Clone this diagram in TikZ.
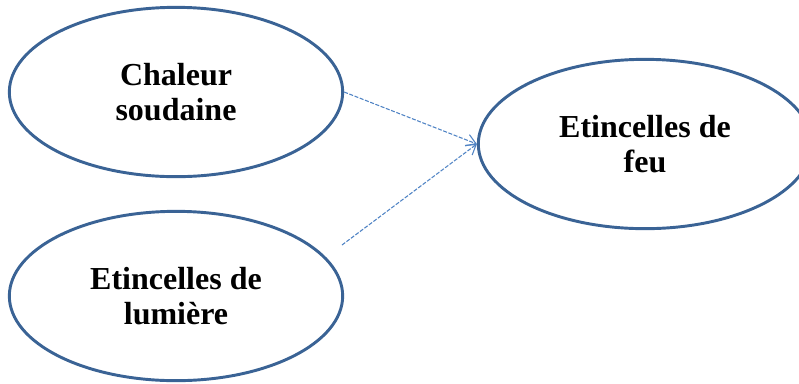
\documentclass[tikz,border=0pt]{standalone}
\usepackage{fontspec}
\setmainfont{Liberation Serif}
\usetikzlibrary{arrows.meta, positioning, shapes.geometric}
\definecolor{rimblue}{HTML}{3A6395}
\definecolor{linkblue}{HTML}{4F83C4}
\begin{document}
\begin{tikzpicture}[
    x=0.75pt, y=-0.75pt,
    cause/.style={draw=rimblue, line width=2.2pt, ellipse, inner sep=0pt,
                  minimum width=250pt, minimum height=127pt, align=center,
                  font=\bfseries\fontsize{24}{26.5}\selectfont},
    link/.style={-{Straight Barb[length=7pt,width=9pt]}, dashed,
                 dash pattern=on 3pt off 1.2pt, line width=0.8pt, linkblue}
]
\clip (0,0) rectangle (799,383);
\useasboundingbox (0,0) rectangle (799,383);

% --- Causes (left) ---
\node[cause] (chaleur) at (176,92)  {Chaleur\\soudaine};
\node[cause] (lumiere) at (176,296) {Etincelles de\\lumière};

% --- Effect (right) ---
\node[cause] (feu) at (645,144) {Etincelles de\\feu};

% --- Links ---
\coordinate (start) at (342,245);
\draw[link] (chaleur.east) -- (feu.west);
\draw[link] (start) -- (feu.west);

\end{tikzpicture}
\end{document}
